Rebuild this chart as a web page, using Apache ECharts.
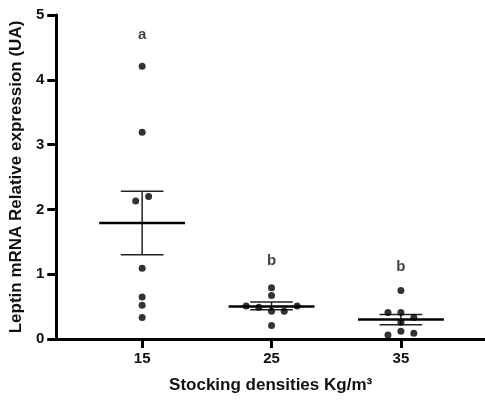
<!DOCTYPE html>
<html>
<head>
<meta charset="utf-8">
<script src="https://cdn.jsdelivr.net/npm/echarts@6/dist/echarts.min.js"></script>
<style>html,body{margin:0;padding:0;background:#fff}#c{width:485px;height:403px}</style>
</head>
<body>
<div id="c"></div>
<script>
// Groups (stocking density, Kg/m3)
const groups = [15, 25, 35];
const groupLabels = ['15', '25', '35'];
// Individual points: horizontal placement (x) and relative expression (y)
const pts15X = [15, 15, 14.5, 15.5, 15, 15, 15, 15];
const pts15Y = [4.21, 3.19, 2.13, 2.20, 1.09, 0.65, 0.52, 0.33];
const pts25X = [25, 25, 23.04, 24.02, 25, 25.98, 26.98, 25];
const pts25Y = [0.79, 0.67, 0.51, 0.49, 0.43, 0.43, 0.51, 0.21];
const pts35X = [35, 34, 35, 36, 35, 35, 34, 36];
const pts35Y = [0.75, 0.41, 0.41, 0.33, 0.26, 0.12, 0.06, 0.09];
// Mean and SEM bounds
const means = [1.79, 0.50, 0.30];
const semUpper = [2.28, 0.57, 0.38];
const semLower = [1.30, 0.45, 0.22];
// Significance letters
const letters = ['a', 'b', 'b'];
const letterY = [4.69, 1.21, 1.12];
// Y ticks
const yTicks = [0, 1, 2, 3, 4, 5];

const MEAN_HALF = 3.32, CAP_HALF = 1.65;
const FONT = 'Liberation Sans, Arial, sans-serif';

function pairs(xs, ys) { return xs.map((x, i) => [x, ys[i]]); }
const pointData = [].concat(pairs(pts15X, pts15Y), pairs(pts25X, pts25Y), pairs(pts35X, pts35Y));
const errData = groups.map((g, i) => [g, means[i], semUpper[i], semLower[i]]);
const letterData = groups.map((g, i) => [g, letterY[i], letters[i]]);

const chart = echarts.init(document.getElementById('c'));
chart.setOption({
  animation: false,
  grid: { left: 56, right: 0, top: 15, bottom: 64 },
  xAxis: {
    type: 'value', min: 8.36, max: 41.5,
    splitLine: { show: false },
    axisLine: { lineStyle: { color: '#000', width: 3 } },
    axisTick: { customValues: groups, length: 9, lineStyle: { color: '#000', width: 3 } },
    axisLabel: { customValues: groups, formatter: v => groupLabels[groups.indexOf(v)] || '', color: '#111', fontSize: 15, fontWeight: 'bold', fontFamily: FONT, margin: 12 },
    name: 'Stocking densities Kg/m³', nameLocation: 'middle', nameGap: 38,
    nameTextStyle: { color: '#111', fontSize: 17, fontWeight: 'bold', fontFamily: FONT }
  },
  yAxis: {
    type: 'value', min: 0, max: 5, interval: 1,
    splitLine: { show: false },
    axisLine: { show: true, lineStyle: { color: '#000', width: 3 } },
    axisTick: { show: true, length: 9, lineStyle: { color: '#000', width: 3 } },
    axisLabel: { color: '#111', fontSize: 15, fontWeight: 'bold', fontFamily: FONT, margin: 12,
      formatter: v => yTicks.indexOf(v) >= 0 ? String(v) : '' },
    name: 'Leptin mRNA Relative expression (UA)', nameLocation: 'middle', nameGap: 24,
    nameTextStyle: { color: '#111', fontSize: 17, fontWeight: 'bold', fontFamily: FONT }
  },
  series: [
    {
      type: 'custom',
      data: errData,
      z: 3,
      renderItem: function (params, api) {
        const x = api.value(0), m = api.value(1), hi = api.value(2), lo = api.value(3);
        const pL = api.coord([x - MEAN_HALF, m]), pR = api.coord([x + MEAN_HALF, m]);
        const top = api.coord([x, hi]), bot = api.coord([x, lo]);
        const cl = api.coord([x - CAP_HALF, hi]), cr = api.coord([x + CAP_HALF, hi]);
        const bl = api.coord([x - CAP_HALF, lo]), br = api.coord([x + CAP_HALF, lo]);
        const thin = { stroke: '#222', lineWidth: 1.5 };
        return {
          type: 'group',
          children: [
            { type: 'line', shape: { x1: top[0], y1: top[1], x2: bot[0], y2: bot[1] }, style: thin },
            { type: 'line', shape: { x1: cl[0], y1: cl[1], x2: cr[0], y2: cr[1] }, style: thin },
            { type: 'line', shape: { x1: bl[0], y1: bl[1], x2: br[0], y2: br[1] }, style: thin },
            { type: 'line', shape: { x1: pL[0], y1: pL[1], x2: pR[0], y2: pR[1] }, style: { stroke: '#000', lineWidth: 2.5 } }
          ]
        };
      }
    },
    {
      type: 'scatter',
      data: pointData,
      symbolSize: 7,
      itemStyle: { color: '#000' },
      z: 4
    },
    {
      type: 'scatter',
      data: letterData,
      symbolSize: 0,
      label: { show: true, position: 'inside', formatter: p => p.value[2], color: '#111', fontSize: 15, fontWeight: 'bold', fontFamily: FONT }
    }
  ]
});
</script>
</body>
</html>
